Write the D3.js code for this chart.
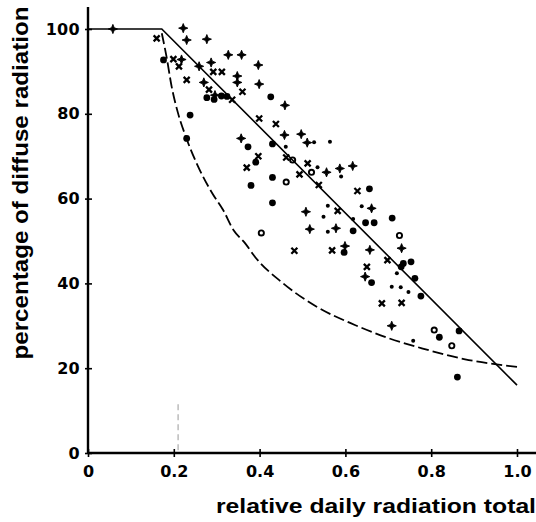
<!DOCTYPE html>
<html>
<head>
<meta charset="utf-8">
<script src="https://cdn.jsdelivr.net/npm/d3@7"></script>
<style>
  body { margin: 0; background: #fff; }
  svg { display: block; }
</style>
</head>
<body>
<div id="chart"></div>
<script>
// axis ticks
const xTicks = [0, 0.2, 0.4, 0.6, 0.8, 1.0];
const xTickLabels = ["0", "0.2", "0.4", "0.6", "0.8", "1.0"];
const yTicks = [0, 20, 40, 60, 80, 100];

// solid reference line (relative total -> % diffuse)
const lineX = [0, 0.172, 1.0];
const lineY = [100, 100, 16];

// dashed curve
const curveX = [0.172, 0.183, 0.195, 0.21, 0.228, 0.257, 0.29, 0.315, 0.339, 0.366, 0.389, 0.455, 0.533, 0.622, 0.70, 0.778, 0.879, 1.0];
const curveY = [99, 93.5, 86.4, 80.1, 74.6, 67.5, 61.2, 57.3, 52.6, 49.5, 46.3, 40.0, 34.5, 30.2, 27.1, 24.7, 22.1, 20.3];

// observations, one array per marker type: [x, y]
const plusPoints = [
    [0.058, 100.0], [0.222, 100.2], [0.230, 97.4], [0.277, 97.6], [0.327, 93.9], [0.358, 93.9],
    [0.218, 92.8], [0.259, 91.2], [0.287, 92.1], [0.348, 88.9], [0.348, 87.4], [0.270, 87.4],
    [0.296, 84.4], [0.357, 74.2], [0.397, 91.5], [0.399, 87.0], [0.459, 82.0], [0.458, 75.0],
    [0.497, 75.2], [0.511, 73.2], [0.556, 66.2], [0.587, 67.1], [0.617, 67.7], [0.508, 56.9],
    [0.661, 57.7], [0.517, 52.8], [0.578, 53.0], [0.599, 48.8], [0.657, 47.9], [0.731, 48.3],
    [0.646, 41.6], [0.708, 30.0]
];
const crossPoints = [
    [0.160, 97.8], [0.199, 92.9], [0.212, 91.2], [0.292, 89.9], [0.312, 89.9], [0.360, 85.2],
    [0.230, 88.0], [0.282, 85.7], [0.336, 83.3], [0.399, 78.9], [0.438, 77.6], [0.397, 70.0],
    [0.370, 67.3], [0.462, 69.7], [0.512, 68.3], [0.493, 65.7], [0.538, 63.2], [0.628, 61.8],
    [0.582, 57.1], [0.481, 47.7], [0.569, 47.8], [0.698, 45.5], [0.650, 43.9], [0.685, 35.3],
    [0.731, 35.4]
];
const dotPoints = [
    [0.176, 92.7], [0.238, 79.7], [0.230, 74.2], [0.277, 83.8], [0.294, 83.4], [0.311, 84.2],
    [0.324, 84.1], [0.373, 72.2], [0.391, 68.6], [0.380, 63.1], [0.426, 84.0], [0.430, 72.9],
    [0.430, 65.0], [0.430, 59.0], [0.656, 62.3], [0.647, 54.3], [0.667, 54.3], [0.709, 55.4],
    [0.618, 52.4], [0.597, 47.3], [0.735, 44.7], [0.753, 45.1], [0.730, 43.9], [0.661, 40.2],
    [0.762, 41.2], [0.776, 37.0], [0.819, 27.3], [0.865, 28.8], [0.861, 17.9]
];
const smallPoints = [
    [0.527, 73.3], [0.564, 73.4], [0.461, 72.2], [0.535, 67.4], [0.590, 65.2], [0.559, 58.3],
    [0.638, 58.2], [0.549, 55.7], [0.618, 55.2], [0.559, 52.2], [0.720, 42.4], [0.708, 39.2],
    [0.729, 39.1], [0.747, 38.0], [0.758, 26.5]
];
const ringPoints = [
    [0.477, 69.1], [0.521, 66.2], [0.462, 63.9], [0.404, 51.9], [0.726, 51.3], [0.807, 29.0],
    [0.848, 25.3]
];

// faint mark left on the scan near x = 0.2
const scanMarkX = 0.21;
const scanMarkTop = 11.5;

const width = 536, height = 522;
const x = d3.scaleLinear().domain([0, 1]).range([88, 517]);
const y = d3.scaleLinear().domain([0, 100]).range([453, 29]);

const svg = d3.select("#chart").append("svg")
    .attr("width", width)
    .attr("height", height);

// axes
const xAxis = svg.append("g")
    .attr("transform", `translate(0,${y(0)})`)
    .call(d3.axisBottom(x).tickValues(xTicks).tickSize(4)
        .tickFormat((d, i) => xTickLabels[i]));
xAxis.select(".domain").remove();
xAxis.selectAll(".tick line").attr("y1", -4).attr("y2", 4)
    .attr("stroke", "#000").attr("stroke-width", 1.6);
xAxis.selectAll(".tick text")
    .attr("y", 13).attr("dy", "0.71em")
    .style("font-family", "'DejaVu Sans', sans-serif")
    .style("font-weight", "bold")
    .style("font-size", "16px")
    .attr("fill", "#000");
xAxis.append("line")
    .attr("x1", x(0)).attr("x2", width)
    .attr("stroke", "#000").attr("stroke-width", 2.4);

const yAxis = svg.append("g")
    .attr("transform", `translate(${x(0)},0)`)
    .call(d3.axisLeft(y).tickValues(yTicks).tickSize(4));
yAxis.select(".domain").remove();
yAxis.selectAll(".tick line").attr("x1", -3).attr("x2", 4)
    .attr("stroke", "#000").attr("stroke-width", 1.6);
yAxis.selectAll(".tick text")
    .attr("x", -8)
    .style("font-family", "'DejaVu Sans', sans-serif")
    .style("font-weight", "bold")
    .style("font-size", "16px")
    .style("letter-spacing", "0.3px")
    .attr("fill", "#000");
yAxis.append("line")
    .attr("y1", y(0)).attr("y2", 7)
    .attr("stroke", "#000").attr("stroke-width", 2.4);

// scan mark
svg.append("line")
    .attr("x1", x(scanMarkX)).attr("x2", x(scanMarkX))
    .attr("y1", y(scanMarkTop)).attr("y2", y(0))
    .attr("stroke", "#999").attr("stroke-width", 1)
    .attr("stroke-dasharray", "6,4");

// lines
const lineData = lineX.map((d, i) => [d, lineY[i]]);
svg.append("path")
    .datum(lineData)
    .attr("fill", "none")
    .attr("stroke", "#000")
    .attr("stroke-width", 1.6)
    .attr("d", d3.line().x(d => x(d[0])).y(d => y(d[1])));

const curveData = curveX.map((d, i) => [d, curveY[i]]);
svg.append("path")
    .datum(curveData)
    .attr("fill", "none")
    .attr("stroke", "#000")
    .attr("stroke-width", 1.8)
    .attr("stroke-dasharray", "11,4")
    .attr("d", d3.line().curve(d3.curveMonotoneX).x(d => x(d[0])).y(d => y(d[1])));

// markers
const star = "M0,-4.6L1.3,-1.3L4.6,0L1.3,1.3L0,4.6L-1.3,1.3L-4.6,0L-1.3,-1.3Z";

svg.append("g").selectAll("path")
    .data(plusPoints)
    .join("path")
    .attr("transform", d => `translate(${x(d[0])},${y(d[1])})`)
    .attr("d", star)
    .attr("fill", "#000")
    .attr("stroke", "#000")
    .attr("stroke-width", 0.9);

const crosses = svg.append("g").selectAll("g")
    .data(crossPoints)
    .join("g")
    .attr("transform", d => `translate(${x(d[0])},${y(d[1])})`);
crosses.append("path")
    .attr("d", "M-3,-3L3,3M-3,3L3,-3")
    .attr("stroke", "#000")
    .attr("stroke-width", 2.3);

svg.append("g").selectAll("circle")
    .data(dotPoints)
    .join("circle")
    .attr("cx", d => x(d[0]))
    .attr("cy", d => y(d[1]))
    .attr("r", 3.4)
    .attr("fill", "#000");

svg.append("g").selectAll("circle")
    .data(smallPoints)
    .join("circle")
    .attr("cx", d => x(d[0]))
    .attr("cy", d => y(d[1]))
    .attr("r", 2)
    .attr("fill", "#000");

svg.append("g").selectAll("circle")
    .data(ringPoints)
    .join("circle")
    .attr("cx", d => x(d[0]))
    .attr("cy", d => y(d[1]))
    .attr("r", 2.6)
    .attr("fill", "none")
    .attr("stroke", "#000")
    .attr("stroke-width", 1.9);

// axis titles
svg.append("text")
    .attr("x", 216)
    .attr("y", 513)
    .attr("textLength", 320)
    .attr("lengthAdjust", "spacingAndGlyphs")
    .style("font-family", "'Liberation Sans', Arial, sans-serif")
    .style("font-weight", "bold")
    .style("font-size", "21px")
    .attr("fill", "#000")
    .text("relative daily radiation total");

svg.append("text")
    .attr("transform", "translate(28,183) rotate(-90)")
    .attr("text-anchor", "middle")
    .attr("textLength", 353)
    .attr("lengthAdjust", "spacingAndGlyphs")
    .style("font-family", "'Liberation Sans', Arial, sans-serif")
    .style("font-weight", "bold")
    .style("font-size", "22px")
    .attr("fill", "#000")
    .text("percentage of diffuse radiation");
</script>
</body>
</html>
